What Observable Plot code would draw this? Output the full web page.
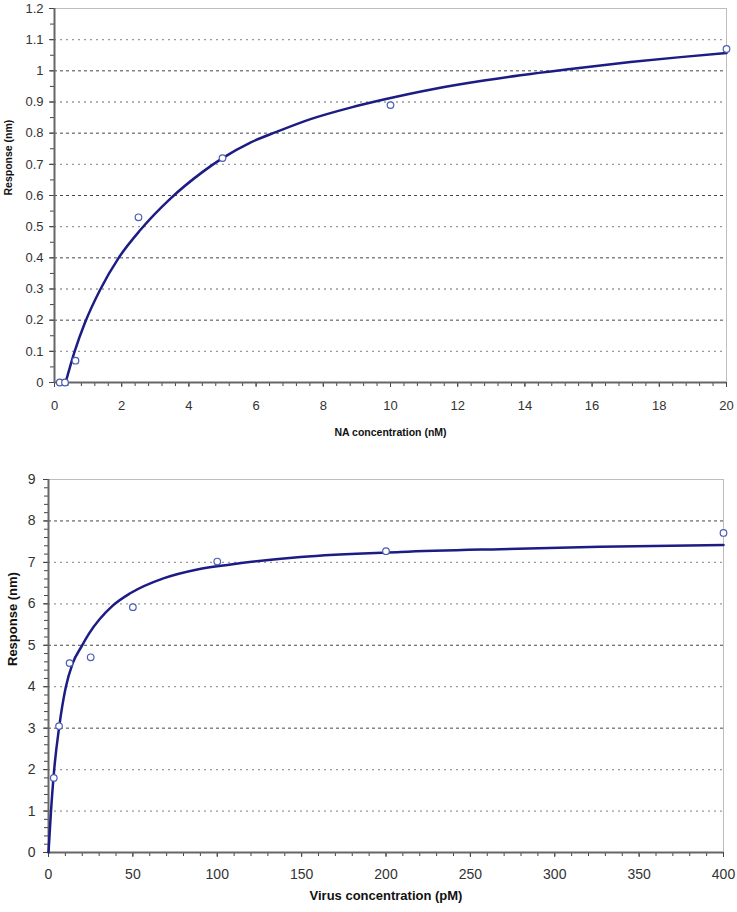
<!DOCTYPE html>
<html>
<head>
<meta charset="utf-8">
<script src="https://cdn.jsdelivr.net/npm/d3@7"></script>
<script src="https://cdn.jsdelivr.net/npm/@observablehq/plot@0.6"></script>
<style>
  html, body { margin: 0; padding: 0; background: #fff; }
  #top, #bottom { width: 737px; }
  svg { display: block; }
</style>
</head>
<body>
<div id="top"></div>
<div id="bottom"></div>
<script>
// ---------- Top chart: NA concentration ----------
const naConc = [0.156, 0.3125, 0.625, 2.5, 5, 10, 20];
const naResp = [0, 0, 0.07, 0.53, 0.72, 0.89, 1.07];
const naFitX = [0.33, 0.6, 0.9, 1.37, 1.91, 2.56, 3.45, 4.4, 5.0, 5.83, 6.63, 7.62, 8.81, 9.8, 11.29, 12.78, 13.87, 15.36, 17.14, 18.63, 20];
const naFitY = [0, 0.1, 0.19, 0.3, 0.4, 0.49, 0.59, 0.675, 0.72, 0.77, 0.805, 0.845, 0.882, 0.908, 0.942, 0.969, 0.986, 1.006, 1.028, 1.044, 1.057];
const naXTicks = [0, 2, 4, 6, 8, 10, 12, 14, 16, 18, 20];
const naYTicks = [0, 0.1, 0.2, 0.3, 0.4, 0.5, 0.6, 0.7, 0.8, 0.9, 1, 1.1, 1.2];
const naXLabel = "NA concentration (nM)";
const naYLabel = "Response (nm)";

// ---------- Bottom chart: Virus concentration ----------
const virusConc = [3.125, 6.25, 12.5, 25, 50, 100, 200, 400];
const virusResp = [1.8, 3.05, 4.57, 4.71, 5.92, 7.02, 7.27, 7.71];
const virusFitX = [0, 1.36, 3.3, 6.3, 10.2, 14.2, 19.7, 24, 37.9, 48.7, 68.5, 88.2, 108, 149.4, 208.6, 267.8, 327, 400];
const virusFitY = [0, 0.92, 1.97, 3.02, 3.98, 4.55, 4.98, 5.28, 5.95, 6.26, 6.62, 6.83, 6.95, 7.13, 7.25, 7.32, 7.375, 7.42];
const virusXTicks = [0, 50, 100, 150, 200, 250, 300, 350, 400];
const virusYTicks = [0, 1, 2, 3, 4, 5, 6, 7, 8, 9];
const virusXLabel = "Virus concentration (pM)";
const virusYLabel = "Response (nm)";

const FONT = "'Liberation Sans', Arial, sans-serif";
const CURVE = "#1c1c84";
const POINT = "#4c5cb4";

function chart({xs, ys, fx, fy, xTicks, yTicks, xMinor, yMinor, xLabel, yLabel,
                height, margins, tickFont, labelFont, xPad, yPad, xLabelDy, yLabelDx, gridStyle}) {
  const xDom = [xTicks[0], xTicks[xTicks.length - 1]];
  const yDom = [yTicks[0], yTicks[yTicks.length - 1]];
  const pts = xs.map((x, i) => ({x, y: ys[i]}));
  const fit = fx.map((x, i) => ({x, y: fy[i]}));
  const gridVals = yTicks.slice(1, -1);
  const gridA = gridVals.filter((v, i) => gridStyle(v, i));
  const gridB = gridVals.filter((v, i) => !gridStyle(v, i));
  return Plot.plot({
    width: 737,
    height,
    ...margins,
    style: {fontFamily: FONT, background: "#fff"},
    x: {domain: xDom, label: null},
    y: {domain: yDom, label: null},
    marks: [
      Plot.frame({stroke: "#bdbdbd", strokeWidth: 1}),
      Plot.gridY(gridA, {stroke: "#333", strokeOpacity: 0.9, strokeDasharray: "3,3", strokeWidth: 1}),
      Plot.gridY(gridB, {stroke: "#9a9a9a", strokeOpacity: 1, strokeDasharray: "2,4", strokeWidth: 1.3}),
      Plot.axisY(yMinor, {tickSize: 4, tickFormat: () => "", stroke: "#444"}),
      Plot.axisX(xMinor, {tickSize: 4, tickFormat: () => "", stroke: "#444"}),
      Plot.axisY(yTicks, {tickSize: 5, tickPadding: yPad, fontSize: tickFont, fill: "#333", stroke: "#444", tickFormat: d => String(d)}),
      Plot.axisX(xTicks, {tickSize: 5, tickPadding: xPad, fontSize: tickFont, fill: "#333", stroke: "#444", tickFormat: d => String(d)}),
      Plot.ruleX([xDom[0]], {stroke: "#666", strokeWidth: 2}),
      Plot.ruleY([yDom[0]], {stroke: "#666", strokeWidth: 2}),
      Plot.line(fit, {x: "x", y: "y", curve: "monotone-x", stroke: CURVE, strokeWidth: 2.5}),
      Plot.dot(pts, {x: "x", y: "y", r: 3.3, stroke: POINT, fill: "white", strokeWidth: 1.2}),
      Plot.text([xLabel], {frameAnchor: "bottom", dy: xLabelDy, fontWeight: "bold", fontSize: labelFont, fill: "#111", lineAnchor: "middle"}),
      Plot.text([yLabel], {frameAnchor: "left", dx: yLabelDx, rotate: -90, fontWeight: "bold", fontSize: labelFont, fill: "#111", lineAnchor: "middle"})
    ]
  });
}

document.getElementById("top").append(chart({
  xs: naConc, ys: naResp, fx: naFitX, fy: naFitY,
  xTicks: naXTicks, yTicks: naYTicks,
  xMinor: d3.range(0, 20.001, 0.4), yMinor: d3.range(0, 1.2001, 0.05),
  xLabel: naXLabel, yLabel: naYLabel,
  height: 445,
  margins: {marginTop: 8, marginBottom: 63, marginLeft: 54, marginRight: 11},
  tickFont: 13, labelFont: 10.5, xPad: 13, yPad: 6, xLabelDy: 50, yLabelDx: -46,
  gridStyle: v => Math.round(v * 10) % 2 === 0
}));

document.getElementById("bottom").append(chart({
  xs: virusConc, ys: virusResp, fx: virusFitX, fy: virusFitY,
  xTicks: virusXTicks, yTicks: virusYTicks,
  xMinor: d3.range(0, 400.001, 10), yMinor: d3.range(0, 9.001, 0.2),
  xLabel: virusXLabel, yLabel: virusYLabel,
  height: 467,
  margins: {marginTop: 34, marginBottom: 60, marginLeft: 48, marginRight: 14},
  tickFont: 14, labelFont: 13, xPad: 12, yPad: 8, xLabelDy: 43, yLabelDx: -36,
  gridStyle: v => [8, 5, 3].includes(v)
}));
</script>
</body>
</html>
